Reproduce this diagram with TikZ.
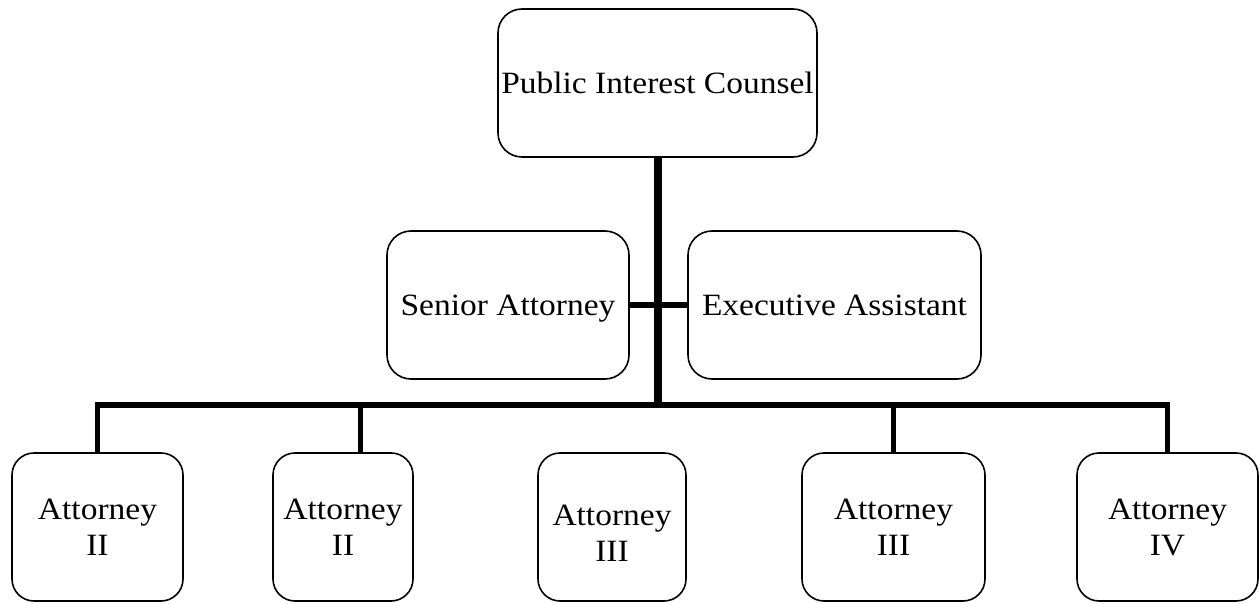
\documentclass[tikz,border=0pt]{standalone}
\usepackage{fontspec}
\setmainfont{Liberation Serif}[FakeStretch=1.08]
\begin{document}
\begin{tikzpicture}[x=1pt,y=-1pt,
  box/.style={draw, line width=1.6pt, rounded corners=#1, inner sep=0pt,
    minimum height=148pt, align=center, text depth=0pt,
    font=\fontsize{31}{36}\selectfont},
  box/.default=24pt,
  trunkline/.style={line width=8pt},
  barline/.style={line width=6pt},
  dropline/.style={line width=5pt}]
\useasboundingbox (0,0) rectangle (1259,604);
% boxes
\node[box, minimum width=319pt] (top) at (657.5,83) {Public Interest Counsel};
\node[box, minimum width=242pt] (senior) at (508,305) {Senior Attorney};
\node[box, minimum width=293pt] (exec) at (834.5,305) {Executive Assistant};
\node[box=22pt, minimum width=171pt] (b1) at (97.5,527) {Attorney\\II};
\node[box=22pt, minimum width=140pt] (b2) at (343,527) {Attorney\\II};
\node[box=22pt, minimum width=148pt, text height=69pt] (b3) at (612,527) {Attorney\\III};
\node[box=22pt, minimum width=183pt] (b4) at (893.5,527) {Attorney\\III};
\node[box=22pt, minimum width=181pt] (b5) at (1167.5,527) {Attorney\\IV};
% junction coordinates
\coordinate (tj) at (657.5,408);
\coordinate (barL) at (97.5,405);
\coordinate (barR) at (1167.5,405);
\coordinate (d2) at (360,405);
% connectors
\draw[trunkline] (top.south) -- (tj);
\draw[barline] (senior.east) -- (exec.west);
\draw[barline] ([xshift=-2.5pt]barL) -- ([xshift=2.5pt]barR);
\draw[dropline] (barL) -- (b1.north);
\draw[dropline] (d2) -- (d2 |- b2.north);
\draw[dropline] (b4.north |- barL) -- (b4.north);
\draw[dropline] (barR) -- (b5.north);
\end{tikzpicture}
\end{document}
